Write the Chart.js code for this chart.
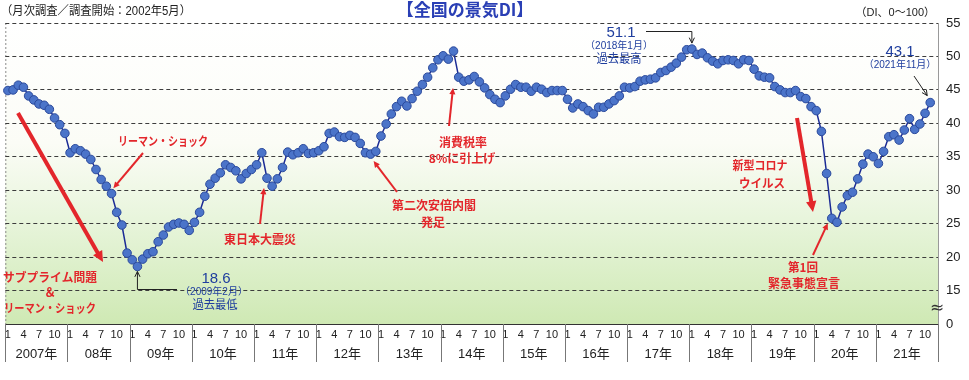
<!DOCTYPE html>
<html lang="ja">
<head>
  <meta charset="UTF-8" />
  <title>全国の景気DI</title>
  <script src="https://cdn.jsdelivr.net/npm/chart.js"></script>
  <style>
    body { margin: 0; background: #ffffff; }
    .wrap { position: relative; width: 969px; height: 380px; }
  </style>
</head>
<body>
  <div class="wrap"><canvas id="diChart"></canvas></div>

  <script>
    // 年ラベル（x軸下段）
    const years = ['2007年', '08年', '09年', '10年', '11年', '12年', '13年', '14年',
                   '15年', '16年', '17年', '18年', '19年', '20年', '21年'];
    // x軸上段に出す月
    const monthTicks = [1, 4, 7, 10];

    // 景気DI（月次、1月〜12月）
    const di2007 = [44.9, 45.0, 45.7, 45.4, 44.1, 43.5, 42.9, 42.7, 42.1, 40.8, 39.8, 38.5];
    const di2008 = [35.6, 36.2, 35.9, 35.4, 34.6, 33.1, 31.6, 30.6, 29.5, 26.7, 24.8, 20.6];
    const di2009 = [19.6, 18.6, 19.7, 20.5, 20.8, 22.3, 23.3, 24.5, 24.9, 25.1, 24.9, 24.0];
    const di2010 = [25.2, 26.7, 29.1, 30.9, 31.8, 32.6, 33.8, 33.4, 32.9, 31.7, 32.5, 33.1];
    const di2011 = [33.8, 35.6, 31.8, 30.6, 31.7, 33.4, 35.7, 35.3, 35.6, 36.2, 35.5, 35.6];
    const di2012 = [35.9, 36.5, 38.5, 38.7, 38.0, 37.9, 38.2, 37.9, 37.0, 35.6, 35.4, 35.8];
    const di2013 = [38.1, 39.9, 41.4, 42.5, 43.3, 42.6, 43.7, 44.8, 45.8, 46.9, 48.3, 49.5];
    const di2014 = [50.1, 49.6, 50.8, 46.9, 46.3, 46.5, 47.0, 46.2, 45.3, 44.3, 43.6, 43.1];
    const di2015 = [44.1, 45.1, 45.8, 45.4, 45.4, 44.8, 45.4, 45.1, 44.6, 44.9, 44.9, 44.9];
    const di2016 = [43.6, 42.3, 42.9, 42.5, 41.9, 41.4, 42.4, 42.4, 42.9, 43.4, 44.1, 45.4];
    const di2017 = [45.3, 45.5, 46.3, 46.5, 46.6, 46.8, 47.6, 47.9, 48.4, 49.0, 49.9, 51.0];
    const di2018 = [51.1, 50.3, 50.5, 49.8, 49.3, 48.9, 49.4, 49.5, 49.4, 48.9, 49.5, 49.4];
    const di2019 = [48.1, 47.1, 46.9, 46.8, 45.5, 45.0, 44.6, 44.6, 44.9, 44.0, 43.7, 42.5];
    const di2020 = [41.9, 38.8, 32.5, 25.8, 25.2, 27.5, 29.2, 29.7, 31.7, 33.9, 35.4, 35.0];
    const di2021 = [34.0, 35.8, 38.0, 38.3, 37.5, 39.0, 40.7, 39.1, 39.9, 41.5, 43.1, null];

    const diByYear = [di2007, di2008, di2009, di2010, di2011, di2012, di2013, di2014,
                      di2015, di2016, di2017, di2018, di2019, di2020, di2021];

    // y軸：15〜55 と、省略記号の下に 0
    const yMin = 10, yMax = 55, yStep = 5;

    const labels = [];
    years.forEach(y => { for (let m = 1; m <= 12; m++) labels.push(y + m + '月'); });
    const values = diByYear.flat();

    const RED = '#e3262b';
    const BLUE = '#1f3e9e';
    const JP = "'Noto Sans CJK JP', sans-serif";

    function arrow(ctx, x1, y1, x2, y2, color, width, head, open) {
      const ang = Math.atan2(y2 - y1, x2 - x1);
      ctx.save();
      ctx.strokeStyle = color;
      ctx.fillStyle = color;
      ctx.lineWidth = width;
      ctx.beginPath();
      ctx.moveTo(x1, y1);
      if (open) ctx.lineTo(x2, y2);
      else ctx.lineTo(x2 - Math.cos(ang) * head * 0.8, y2 - Math.sin(ang) * head * 0.8);
      ctx.stroke();
      const a1 = ang + Math.PI - 0.45, a2 = ang + Math.PI + 0.45;
      ctx.beginPath();
      if (open) {
        ctx.lineWidth = 1;
        ctx.moveTo(x2 + Math.cos(a1) * head, y2 + Math.sin(a1) * head);
        ctx.lineTo(x2, y2);
        ctx.lineTo(x2 + Math.cos(a2) * head, y2 + Math.sin(a2) * head);
        ctx.stroke();
      } else {
        ctx.moveTo(x2, y2);
        ctx.lineTo(x2 + Math.cos(a1) * head, y2 + Math.sin(a1) * head);
        ctx.lineTo(x2 + Math.cos(a2) * head, y2 + Math.sin(a2) * head);
        ctx.closePath();
        ctx.fill();
      }
      ctx.restore();
    }

    function text(ctx, str, x, y, font, color, align, maxW) {
      ctx.font = font;
      ctx.fillStyle = color;
      ctx.textAlign = align || 'center';
      ctx.textBaseline = 'middle';
      if (maxW) ctx.fillText(str, x, y, maxW);
      else ctx.fillText(str, x, y);
    }

    // 背景のグラデーションと左枠
    const backdrop = {
      id: 'backdrop',
      beforeDraw(chart) {
        const { ctx, chartArea: a } = chart;
        const g = ctx.createLinearGradient(0, a.top, 0, a.bottom);
        g.addColorStop(0, '#ffffff');
        g.addColorStop(0.4, '#fbfcf6');
        g.addColorStop(0.65, '#e8f5dc');
        g.addColorStop(1, '#cfe9b4');
        ctx.save();
        ctx.fillStyle = g;
        ctx.fillRect(a.left, a.top, a.right - a.left, a.bottom - a.top);
        ctx.strokeStyle = '#8a8a8a';
        ctx.lineWidth = 1;
        ctx.setLineDash([2, 2]);
        ctx.beginPath();
        ctx.moveTo(a.left + 0.5, a.top);
        ctx.lineTo(a.left + 0.5, a.bottom);
        ctx.stroke();
        ctx.restore();
      }
    };

    // 年の区切りと年ラベル
    const yearRow = {
      id: 'yearRow',
      afterDraw(chart) {
        const { ctx, chartArea: a } = chart;
        const x = chart.scales.x;
        const half = (x.getPixelForValue(1) - x.getPixelForValue(0)) / 2;
        ctx.save();
        ctx.strokeStyle = '#777';
        ctx.lineWidth = 1;
        years.forEach((name, k) => {
          const l = x.getPixelForValue(k * 12) - half;
          const r = x.getPixelForValue(k * 12 + 11) + half;
          ctx.beginPath();
          ctx.moveTo(Math.round(l) + 0.5, a.bottom);
          ctx.lineTo(Math.round(l) + 0.5, a.bottom + 38);
          ctx.stroke();
          if (k === years.length - 1) {
            ctx.beginPath();
            ctx.moveTo(Math.round(r) + 0.5, a.bottom);
            ctx.lineTo(Math.round(r) + 0.5, a.bottom + 38);
            ctx.stroke();
          }
          text(ctx, name, (l + r) / 2, a.bottom + 30, "13px 'Liberation Sans', " + JP, '#222');
        });
        // 軸の省略記号
        const yb = chart.scales.y.getPixelForValue(15);
        text(ctx, '≈', a.right - 1, yb + 18, "17px 'DejaVu Sans'", '#333');
        ctx.restore();
      }
    };

    // 注記
    const notes = {
      id: 'notes',
      afterDraw(chart) {
        const { ctx } = chart;
        const px = i => chart.scales.x.getPixelForValue(i);
        const py = v => chart.scales.y.getPixelForValue(v);
        const redFont = 'bold 12px ' + JP;
        ctx.save();

        // タイトル類
        text(ctx, '【全国の景気DI】', 465, 10, 'bold 17px ' + JP, '#2a3fb5', 'center', 146);
        text(ctx, '（月次調査／調査開始：2002年5月）', 1, 12, "12px 'Liberation Sans', " + JP, '#222', 'left', 190);
        text(ctx, '（DI、0～100）', 935, 13, "11px 'Liberation Sans', " + JP, '#222', 'right', 80);

        // サブプライム
        arrow(ctx, 18, 113, 103, 262, RED, 4, 12);
        text(ctx, 'サブプライム問題', 50, 277, redFont, RED, 'center', 94);
        text(ctx, '＆', 50, 292, redFont, RED);
        text(ctx, 'リーマン・ショック', 50, 308, redFont, RED, 'center', 92);

        // リーマン・ショック
        text(ctx, 'リーマン・ショック', 163, 141, redFont, RED, 'center', 90);
        arrow(ctx, 143, 153, px(19) + 7, py(di2008[7]) + 2, RED, 2, 7);

        // 過去最低
        const lx = px(25);
        ctx.strokeStyle = '#222';
        ctx.lineWidth = 1;
        ctx.beginPath();
        ctx.moveTo(177, 289.5);
        ctx.lineTo(lx, 289.5);
        ctx.stroke();
        arrow(ctx, lx, 289.5, lx, py(di2009[1]) + 5, '#222', 1, 6, true);
        text(ctx, '18.6', 216, 279, "15px 'Liberation Sans'", BLUE);
        text(ctx, '（2009年2月）', 214, 292, "10px 'Liberation Sans', " + JP, BLUE);
        text(ctx, '過去最低', 215, 304, '12px ' + JP, BLUE, 'center', 45);

        // 東日本大震災
        text(ctx, '東日本大震災', 260, 239, redFont, RED, 'center', 75);
        arrow(ctx, 260, 224, 264, 188, RED, 2, 7);

        // 第二次安倍内閣
        text(ctx, '第二次安倍内閣', 434, 205, redFont, RED, 'center', 88);
        text(ctx, '発足', 433, 222, redFont, RED);
        arrow(ctx, 397, 192, px(70) + 3, py(di2012[10]) + 7, RED, 2, 7);

        // 消費税
        text(ctx, '消費税率', 463, 142, redFont, RED, 'center', 50);
        text(ctx, '8%に引上げ', 462, 158, redFont, RED, 'center', 67);
        arrow(ctx, 449, 126, 453, 88, RED, 2, 7);

        // 過去最高
        text(ctx, '51.1', 621, 33, "15px 'Liberation Sans'", BLUE);
        text(ctx, '（2018年1月）', 619, 46, "10px 'Liberation Sans', " + JP, BLUE);
        text(ctx, '過去最高', 619, 58, '12px ' + JP, BLUE, 'center', 45);
        const hx = px(132);
        ctx.strokeStyle = '#222';
        ctx.lineWidth = 1;
        ctx.beginPath();
        ctx.moveTo(646, 31.5);
        ctx.lineTo(hx, 31.5);
        ctx.stroke();
        arrow(ctx, hx, 31.5, hx, py(di2018[0]) - 6, '#222', 1, 6, true);

        // 最新
        text(ctx, '43.1', 900, 52, "15px 'Liberation Sans'", BLUE);
        text(ctx, '（2021年11月）', 900, 65, "10px 'Liberation Sans', " + JP, BLUE);
        arrow(ctx, 914, 76, px(178) - 3, py(di2021[10]) - 7, '#222', 1, 6, true);

        // コロナ
        text(ctx, '新型コロナ', 760, 165, redFont, RED, 'center', 55);
        text(ctx, 'ウイルス', 762, 183, redFont, RED, 'center', 46);
        arrow(ctx, 797, 118, 813, 212, RED, 4, 12);

        // 緊急事態宣言
        text(ctx, '第1回', 803, 267, redFont, RED, 'center', 30);
        text(ctx, '緊急事態宣言', 804, 283, redFont, RED, 'center', 75);
        arrow(ctx, 813, 255, px(159) - 4, py(di2020[3]) + 5, RED, 2, 7);

        ctx.restore();
      }
    };

    new Chart(document.getElementById('diChart'), {
      type: 'line',
      data: {
        labels,
        datasets: [{
          data: values,
          borderColor: '#1b2b95',
          borderWidth: 1.5,
          pointRadius: 4.3,
          pointBackgroundColor: '#4b74c9',
          pointBorderColor: '#2b4a9c',
          pointBorderWidth: 1,
          tension: 0,
          spanGaps: false
        }]
      },
      options: {
        responsive: true,
        maintainAspectRatio: false,
        animation: false,
        layout: { padding: { left: 5, top: 23, right: 0, bottom: 0 } },
        plugins: {
          legend: { display: false },
          tooltip: { enabled: false }
        },
        scales: {
          x: {
            type: 'category',
            offset: true,
            grid: { display: false, drawTicks: false },
            border: { display: true, color: '#333', width: 1 },
            ticks: {
              autoSkip: false,
              maxRotation: 0,
              padding: 4,
              color: '#222',
              font: { family: "'Liberation Sans'", size: 11 },
              callback: (v, i) => {
                const m = (i % 12) + 1;
                return monthTicks.includes(m) ? String(m) : '';
              }
            },
            afterFit: s => { s.height = 56; }
          },
          y: {
            position: 'right',
            min: yMin,
            max: yMax,
            grid: {
              drawTicks: false,
              lineWidth: 1,
              color: c => c.tick.value === yMin ? 'rgba(0,0,0,0)' : '#3c3c3c'
            },
            // v4 では border.dash が横グリッドの破線にも効く
            border: { display: true, color: '#999', dash: [4, 3] },
            ticks: {
              stepSize: yStep,
              padding: 8,
              color: '#222',
              font: { family: "'Liberation Sans'", size: 13 },
              callback: v => v === yMin ? '0' : String(v)
            },
            afterFit: s => { s.width = 31; }
          }
        }
      },
      plugins: [backdrop, yearRow, notes]
    });
  </script>
</body>
</html>
